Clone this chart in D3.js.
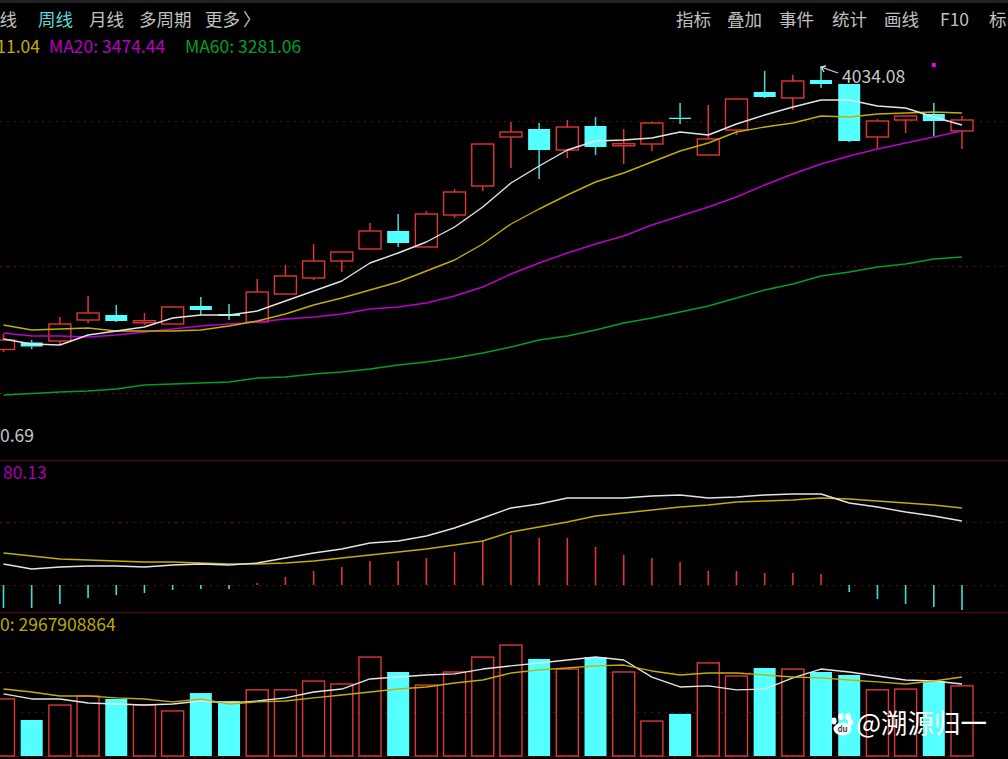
<!DOCTYPE html>
<html>
<head>
<meta charset="utf-8">
<script src="https://cdn.jsdelivr.net/npm/d3@7"></script>
<style>
    html, body { margin: 0; padding: 0; background: #000; overflow: hidden; }
    svg { display: block; }
    text { font-family: "Noto Sans CJK SC", "Noto Sans", sans-serif; }
</style>
</head>
<body>
<div id="chart"></div>
<script>
// weekly k-line, values
const weeks = d3.range(35);
const open = [2904,2932,2938,3022,3042,3011,3006,3078,3046,3014,3126,3190,3258,3306,3378,3314,3442,3558,3754,3786,3702,3798,3719,3726,3831,3682,3782,3934,3910,3982,3966,3754,3822,3846,3778];
const close = [2942,2916,3006,3050,3018,3019,3074,3062,3038,3134,3198,3258,3294,3378,3330,3446,3534,3726,3774,3702,3794,3714,3727,3810,3826,3746,3906,3914,3978,3966,3738,3818,3838,3818,3822];
const high = [2966,2942,3034,3118,3082,3050,3078,3114,3086,3186,3242,3326,3294,3410,3446,3458,3546,3726,3814,3810,3822,3834,3786,3814,3890,3882,3906,4018,4002,4034,3966,3826,3838,3890,3838];
const low = [2894,2906,2922,3010,3014,3002,3006,3042,3022,3014,3126,3182,3214,3306,3314,3314,3430,3538,3630,3586,3670,3682,3646,3698,3806,3682,3762,3910,3862,3950,3734,3710,3770,3758,3706];

const ma5 = [2946,2926,2922,2962,2978,2994,3030,3042,3042,3058,3098,3138,3178,3250,3290,3334,3394,3474,3570,3638,3702,3738,3742,3750,3774,3762,3806,3842,3874,3902,3902,3878,3870,3834,3802];
const ma10 = [3002,2982,2986,2990,2978,2978,2978,2982,2998,3018,3046,3082,3110,3142,3174,3218,3262,3326,3406,3466,3522,3574,3610,3654,3698,3730,3774,3794,3810,3838,3834,3846,3850,3854,3850];
const ma20 = [2970,2958,2958,2954,2962,2974,2986,2998,3006,3014,3026,3034,3046,3066,3074,3090,3118,3154,3206,3250,3290,3326,3358,3402,3438,3474,3514,3562,3606,3646,3678,3706,3730,3754,3778];
const ma60 = [2722,2728,2734,2738,2746,2762,2766,2770,2774,2790,2794,2806,2814,2826,2842,2854,2870,2890,2914,2942,2958,2982,3010,3030,3054,3078,3110,3142,3166,3198,3214,3234,3246,3266,3274];

const macdHist = [-46,-46,-38,-26,-20,-16,-10,-8,-8,4,16,28,36,48,48,54,66,90,100,94,94,76,60,54,46,28,28,24,24,22,-14,-28,-38,-44,-50];
const dif = [42,32,36,38,38,36,40,42,40,44,54,64,72,84,88,98,114,134,154,162,174,174,174,178,180,174,176,180,182,182,164,156,146,138,128];
const dea = [64,58,52,50,48,46,46,44,42,42,44,48,54,60,66,72,80,88,106,116,126,138,144,150,156,160,166,168,170,174,172,168,164,160,154];

// volume in 1e8 shares
const volume = [21.4,13.5,19.1,22.5,21.4,19.1,16.9,23.6,20.6,24.8,24.8,28.1,27,37.1,31.5,26.6,31.5,37.1,41.6,36.4,32.6,37.1,31.5,13.1,15.8,34.9,30,33,32.6,31.5,30.4,24.8,25.1,28.1,26.3];
const volMa5 = [23.3,21.4,21.4,19.9,19.5,19.1,19.5,20.6,19.9,20.6,21.8,24,25.1,28.9,29.6,30.4,30.8,32.6,33.8,34.9,36,37.1,36,29.6,25.9,26.3,24.8,25.1,29.3,32.6,31.5,30,28.5,28.1,27];
const volMa10 = [25.1,24,22.5,22.5,21.8,21.4,20.3,21.4,19.5,20.3,20.6,21.8,22.9,24,25.1,25.9,27.4,28.5,31.1,32.3,33,33.8,34.1,31.9,30.4,31.1,31.1,30.4,29.6,29.3,28.5,27.8,27,28.1,29.6];

const priceGrid = [3816, 3240, 2728];
const macdGrid = [126, 0];
const volGrid = [31.5, 16.5];

const menuLeft = [["日线", 2, false], ["周线", 38, true], ["月线", 89, false], ["多周期", 139, false], ["更多", 205, false], ["〉", 243, false]];
const menuRight = [["指标", 676], ["叠加", 727], ["事件", 779], ["统计", 832], ["画线", 884], ["F10", 940], ["标", 989]];

const RED = "#e03636";
const CYAN = "#54ffff";
const WHITE = "#e4e4e4";
const YELLOW = "#c4ae00";
const MAGENTA = "#c000cc";
const GREEN = "#00a028";
const GRID = "#6e0808";

const width = 1008;
const height = 759;
const barW = 22;

const svg = d3
    .select("#chart")
    .append("svg")
    .attr("width", width)
    .attr("height", height);

svg.append("rect").attr("width", width).attr("height", height).attr("fill", "#000");
svg.append("rect").attr("width", width).attr("height", 3).attr("fill", "#232323");

const x = d3.scalePoint().domain(weeks).range([3.5, 962]);
const yPrice = d3.scaleLinear().domain([2458, 4302]).range([461, 0]);
const yMacd = d3.scaleLinear().domain([-54, 248]).range([612, 461]);
const yVol = d3.scaleLinear().domain([0, 54]).range([756, 612]);

// panel frames and dotted levels
svg.selectAll(".sep")
    .data([460.5, 612.5])
    .join("line")
    .attr("x1", 0)
    .attr("x2", width)
    .attr("y1", (d) => d)
    .attr("y2", (d) => d)
    .attr("stroke", "#5c0008")
    .attr("stroke-width", 1);

function dotted(levels, scale) {
    svg.append("g")
        .selectAll("line")
        .data(levels)
        .join("line")
        .attr("x1", 0)
        .attr("x2", width)
        .attr("y1", (d) => Math.round(scale(d)) + 0.5)
        .attr("y2", (d) => Math.round(scale(d)) + 0.5)
        .attr("stroke", GRID)
        .attr("stroke-dasharray", "2,5");
}
dotted(priceGrid, yPrice);
dotted(macdGrid, yMacd);
dotted(volGrid, yVol);

const axis = d3.axisBottom(x).tickSize(3).tickFormat("");
svg.append("g")
    .attr("transform", "translate(-6,756)")
    .call(axis)
    .call((g) => g.selectAll("line,path").attr("stroke", "#5c0008"));

const isUp = (i) => close[i] >= open[i];

// candles
const candle = svg.append("g").selectAll("g").data(weeks).join("g");
candle.append("line")
    .attr("x1", (i) => x(i))
    .attr("x2", (i) => x(i))
    .attr("y1", (i) => yPrice(high[i]))
    .attr("y2", (i) => yPrice(Math.max(open[i], close[i])))
    .attr("stroke", (i) => (isUp(i) ? RED : "#3fdcdc"))
    .attr("stroke-width", 1.5);
candle.append("line")
    .attr("x1", (i) => x(i))
    .attr("x2", (i) => x(i))
    .attr("y1", (i) => yPrice(Math.min(open[i], close[i])))
    .attr("y2", (i) => yPrice(low[i]))
    .attr("stroke", (i) => (isUp(i) ? RED : "#3fdcdc"))
    .attr("stroke-width", 1.5);
candle.append("rect")
    .attr("x", (i) => x(i) - barW / 2)
    .attr("width", barW)
    .attr("y", (i) => yPrice(Math.max(open[i], close[i])))
    .attr("height", (i) => Math.abs(yPrice(open[i]) - yPrice(close[i])))
    .attr("fill", (i) => (isUp(i) ? "#000" : CYAN))
    .attr("stroke", (i) => (isUp(i) ? RED : "none"))
    .attr("stroke-width", 1.4);

function drawLine(values, scale, color, w) {
    svg.append("path")
        .datum(values)
        .attr("fill", "none")
        .attr("stroke", color)
        .attr("stroke-width", w || 1.4)
        .attr("stroke-linejoin", "round")
        .attr("d", d3.line().x((d, i) => x(i)).y((d) => scale(d)));
}
drawLine(ma60, yPrice, GREEN);
drawLine(ma20, yPrice, MAGENTA);
drawLine(ma10, yPrice, YELLOW);
drawLine(ma5, yPrice, WHITE);

// macd histogram
svg.append("g")
    .selectAll("line")
    .data(macdHist)
    .join("line")
    .attr("x1", (d, i) => x(i))
    .attr("x2", (d, i) => x(i))
    .attr("y1", yMacd(0))
    .attr("y2", (d) => yMacd(d))
    .attr("stroke", (d) => (d >= 0 ? RED : "#3fdcdc"))
    .attr("stroke-width", 1.6);
drawLine(dea, yMacd, YELLOW);
drawLine(dif, yMacd, WHITE);

// volume
svg.append("g")
    .selectAll("rect")
    .data(volume)
    .join("rect")
    .attr("x", (d, i) => x(i) - barW / 2)
    .attr("width", barW)
    .attr("y", (d) => yVol(d))
    .attr("height", (d) => yVol(0) - yVol(d) - (0))
    .attr("fill", (d, i) => (isUp(i) ? "#000" : CYAN))
    .attr("stroke", (d, i) => (isUp(i) ? RED : "none"))
    .attr("stroke-width", 1.4);
drawLine(volMa5, yVol, WHITE);
drawLine(volMa10, yVol, YELLOW);

// text
function label(txt, px, py, color, size, anchor) {
    return svg.append("text")
        .attr("x", px)
        .attr("y", py)
        .attr("fill", color)
        .attr("font-size", size)
        .attr("text-anchor", anchor || "start")
        .text(txt);
}
menuLeft.forEach(([t, px, active]) => label(t, px - (t === "日线" ? 20 : 0), 26, active ? "#5fd8d8" : "#c0c0c0", 17.5));
menuRight.forEach(([t, px]) => label(t, px, 26, "#c0c0c0", 17.5));

label("MA10: 3611.04", 40, 53, YELLOW, 17.5, "end");
label("MA20: 3474.44", 49, 53, "#b800c4", 17.5);
label("MA60: 3281.06", 185, 53, "#00a028", 17.5);
label("0.69", 0, 442, "#c8c8c8", 17.5);
label("80.13", 3, 479, "#a800b4", 17.5);
label("0: 2967908864", 0, 631, "#bcaa00", 17.5);

// high marker
label("4034.08", x(29) + 21, 83, "#c8c8c8", 17.5);
const hx = x(29);
const hy = yPrice(high[29]);
svg.append("path")
    .attr("d", `M${hx + 17},${hy + 6}L${hx},${hy}M${hx + 5},${hy - 1}L${hx},${hy}L${hx + 3},${hy + 5}`)
    .attr("fill", "none")
    .attr("stroke", "#d8d8d8")
    .attr("stroke-width", 1.3);
svg.append("rect")
    .attr("x", x(33) - 2)
    .attr("y", yPrice(4042) - 2)
    .attr("width", 4)
    .attr("height", 4)
    .attr("fill", "#f000f0");

// watermark
const paw = svg.append("g").attr("fill", "#fff");
[[834, 721, 2.6, 3.4], [841, 716.5, 2.8, 3.6], [848, 716.5, 2.8, 3.6], [850.5, 722, 2.6, 3.4]].forEach(([cx, cy, rx, ry]) =>
    paw.append("ellipse").attr("cx", cx).attr("cy", cy).attr("rx", rx).attr("ry", ry)
);
paw.append("ellipse").attr("cx", 842.5).attr("cy", 729).attr("rx", 9).attr("ry", 6.5);
svg.append("text")
    .attr("x", 842.5)
    .attr("y", 732)
    .attr("fill", "#444")
    .attr("font-size", 8)
    .attr("font-weight", 700)
    .attr("text-anchor", "middle")
    .text("du");
label("@溯源归一", 856, 733, "#fff", 26.5);
</script>
</body>
</html>
